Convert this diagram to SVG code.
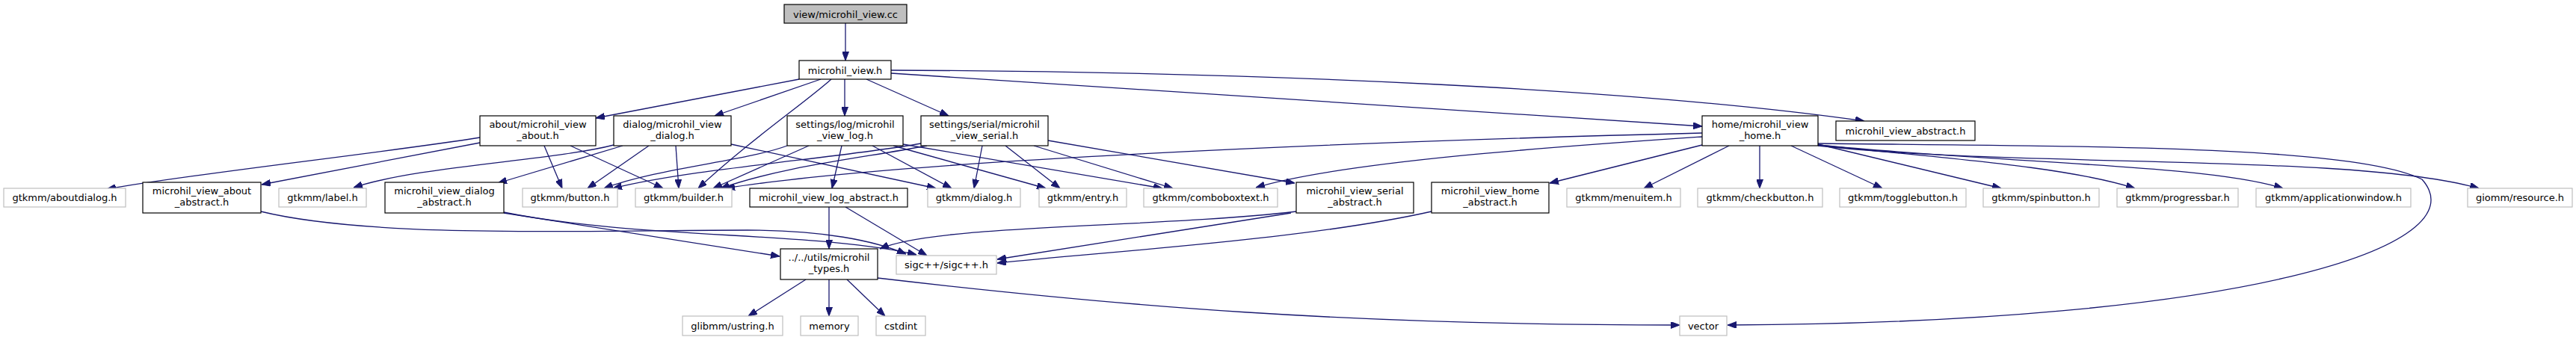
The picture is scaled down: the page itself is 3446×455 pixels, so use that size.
<svg xmlns="http://www.w3.org/2000/svg" width="3446" height="455" viewBox="0 0 3446 455">
<style>
.n rect{fill:#ffffff;stroke:#000000;stroke-width:1.2}
.r rect{fill:#bfbfbf;stroke:#000000;stroke-width:1.2}
.x rect{fill:#ffffff;stroke:#bfbfbf;stroke-width:1.2}
text{font-family:"DejaVu Sans","Liberation Sans",sans-serif;font-size:13px;fill:#000;text-anchor:middle}
#edges path{fill:none;stroke:#191970;stroke-width:1.3;marker-end:url(#ah)}
</style>
<defs>
<marker id="ah" markerWidth="12" markerHeight="9" refX="12" refY="4.5" orient="auto" markerUnits="userSpaceOnUse">
<path d="M0,0 L12,4.5 L0,9 z" fill="#191970" stroke="#191970" stroke-width="1"/>
</marker>
</defs>
<rect width="3446" height="455" fill="#ffffff"/>
<g id="edges">
<path d="M1131,31 L1131,81"/>
<path d="M1069,106 L797,158"/>
<path d="M1098,106 L956,155"/>
<path d="M1112,106 C1080,135 1000,190 934,252"/>
<path d="M1130,106 L1130,155"/>
<path d="M1159,106 L1269,155"/>
<path d="M1192,98 C1500,115 1900,145 2277,169"/>
<path d="M1192,94 C1700,96 2200,120 2494,162"/>
<path d="M642,184 C510,205 260,232 143,253"/>
<path d="M642,191 L350,247"/>
<path d="M728,195 L752,252"/>
<path d="M763,195 L887,252"/>
<path d="M821,194 C740,215 560,222 473,251"/>
<path d="M833,195 L666,245"/>
<path d="M868,195 L786,252"/>
<path d="M904,195 L908,252"/>
<path d="M978,193 L1252,252"/>
<path d="M1053,195 C1000,215 880,225 808,252"/>
<path d="M1082,195 L954,252"/>
<path d="M1126,195 L1113,252"/>
<path d="M1167,195 L1273,252"/>
<path d="M1195,195 L1399,252"/>
<path d="M1208,193 L1555,252"/>
<path d="M1232,192 C1120,212 930,225 820,252"/>
<path d="M1240,195 C1150,212 1050,222 964,252"/>
<path d="M1314,195 L1303,252"/>
<path d="M1345,195 L1418,252"/>
<path d="M1383,195 L1569,252"/>
<path d="M1402,188 L1732,245"/>
<path d="M2277,178 C1800,190 1200,215 971,252"/>
<path d="M2277,183 C2100,195 1800,215 1680,251"/>
<path d="M2277,194 L2073,245"/>
<path d="M2313,195 L2199,252"/>
<path d="M2354,195 L2354,252"/>
<path d="M2396,195 L2518,252"/>
<path d="M2432,193 L2677,252"/>
<path d="M2432,194 C2600,212 2760,222 2856,252"/>
<path d="M2432,194 C2700,220 2950,220 3054,252"/>
<path d="M2432,195 C2700,225 3150,205 3316,252"/>
<path d="M2432,192 C2800,196 3150,195 3240,240 C3320,330 3000,432 2311,435"/>
<path d="M349,283 C500,320 800,308 1000,308 C1100,308 1170,322 1212,340"/>
<path d="M674,284 C850,320 1100,310 1226,341"/>
<path d="M674,285 L1043,343"/>
<path d="M1109,277 L1109,333"/>
<path d="M1131,277 L1240,342"/>
<path d="M1734,283 C1550,305 1250,300 1177,333"/>
<path d="M1727,285 L1334,347"/>
<path d="M1915,283 C1750,320 1500,335 1334,352"/>
<path d="M1078,374 L1001,423"/>
<path d="M1109,374 L1109,423"/>
<path d="M1133,374 L1184,423"/>
<path d="M1174,372 C1500,410 1800,435 2247,435"/>
</g>
<g id="node0" class="r"><rect x="1049" y="6" width="164" height="25"/><text x="1131" y="23.5">view/microhil_view.cc</text></g>
<g id="node1" class="n"><rect x="1069" y="81" width="123" height="25"/><text x="1130.5" y="98.5">microhil_view.h</text></g>
<g id="node2" class="n"><rect x="642" y="155" width="155" height="40"/><text x="719.5" y="171">about/microhil_view</text><text x="719.5" y="186">_about.h</text></g>
<g id="node3" class="n"><rect x="821" y="155" width="157" height="40"/><text x="899.5" y="171">dialog/microhil_view</text><text x="899.5" y="186">_dialog.h</text></g>
<g id="node4" class="n"><rect x="1053" y="155" width="155" height="40"/><text x="1130.5" y="171">settings/log/microhil</text><text x="1130.5" y="186">_view_log.h</text></g>
<g id="node5" class="n"><rect x="1232" y="155" width="170" height="40"/><text x="1317" y="171">settings/serial/microhil</text><text x="1317" y="186">_view_serial.h</text></g>
<g id="node6" class="n"><rect x="2277" y="155" width="155" height="40"/><text x="2354.5" y="171">home/microhil_view</text><text x="2354.5" y="186">_home.h</text></g>
<g id="node7" class="n"><rect x="2456" y="162" width="186" height="26"/><text x="2549" y="179.5">microhil_view_abstract.h</text></g>
<g id="node8" class="x"><rect x="5" y="252" width="163" height="25"/><text x="86.5" y="269">gtkmm/aboutdialog.h</text></g>
<g id="node9" class="n"><rect x="191" y="244" width="158" height="41"/><text x="270" y="260">microhil_view_about</text><text x="270" y="275">_abstract.h</text></g>
<g id="node10" class="x"><rect x="373" y="252" width="117" height="25"/><text x="431.5" y="269">gtkmm/label.h</text></g>
<g id="node11" class="n"><rect x="515" y="244" width="159" height="41"/><text x="594.5" y="260">microhil_view_dialog</text><text x="594.5" y="275">_abstract.h</text></g>
<g id="node12" class="x"><rect x="699" y="252" width="127" height="25"/><text x="762.5" y="269">gtkmm/button.h</text></g>
<g id="node13" class="x"><rect x="850" y="252" width="129" height="25"/><text x="914.5" y="269">gtkmm/builder.h</text></g>
<g id="node14" class="n"><rect x="1003" y="252" width="211" height="25"/><text x="1108.5" y="269">microhil_view_log_abstract.h</text></g>
<g id="node15" class="x"><rect x="1241" y="252" width="124" height="25"/><text x="1303" y="269">gtkmm/dialog.h</text></g>
<g id="node16" class="x"><rect x="1390" y="252" width="117" height="25"/><text x="1448.5" y="269">gtkmm/entry.h</text></g>
<g id="node17" class="x"><rect x="1530" y="252" width="179" height="25"/><text x="1619.5" y="269">gtkmm/comboboxtext.h</text></g>
<g id="node18" class="n"><rect x="1734" y="244" width="157" height="41"/><text x="1812.5" y="260">microhil_view_serial</text><text x="1812.5" y="275">_abstract.h</text></g>
<g id="node19" class="n"><rect x="1915" y="244" width="157" height="41"/><text x="1993.5" y="260">microhil_view_home</text><text x="1993.5" y="275">_abstract.h</text></g>
<g id="node20" class="x"><rect x="2096" y="252" width="152" height="25"/><text x="2172" y="269">gtkmm/menuitem.h</text></g>
<g id="node21" class="x"><rect x="2271" y="252" width="167" height="25"/><text x="2354.5" y="269">gtkmm/checkbutton.h</text></g>
<g id="node22" class="x"><rect x="2461" y="252" width="169" height="25"/><text x="2545.5" y="269">gtkmm/togglebutton.h</text></g>
<g id="node23" class="x"><rect x="2653" y="252" width="155" height="25"/><text x="2730.5" y="269">gtkmm/spinbutton.h</text></g>
<g id="node24" class="x"><rect x="2832" y="252" width="162" height="25"/><text x="2913" y="269">gtkmm/progressbar.h</text></g>
<g id="node25" class="x"><rect x="3018" y="252" width="207" height="25"/><text x="3121.5" y="269">gtkmm/applicationwindow.h</text></g>
<g id="node26" class="x"><rect x="3301" y="252" width="140" height="25"/><text x="3371" y="269">giomm/resource.h</text></g>
<g id="node27" class="n"><rect x="1044" y="333" width="130" height="41"/><text x="1109" y="349">../../utils/microhil</text><text x="1109" y="364">_types.h</text></g>
<g id="node28" class="x"><rect x="1199" y="342" width="134" height="25"/><text x="1266" y="359">sigc++/sigc++.h</text></g>
<g id="node29" class="x"><rect x="913" y="423" width="134" height="26"/><text x="980" y="440.5">glibmm/ustring.h</text></g>
<g id="node30" class="x"><rect x="1071" y="423" width="77" height="26"/><text x="1109.5" y="440.5">memory</text></g>
<g id="node31" class="x"><rect x="1172" y="423" width="66" height="26"/><text x="1205" y="440.5">cstdint</text></g>
<g id="node32" class="x"><rect x="2247" y="423" width="63" height="26"/><text x="2278.5" y="440.5">vector</text></g>
</svg>
